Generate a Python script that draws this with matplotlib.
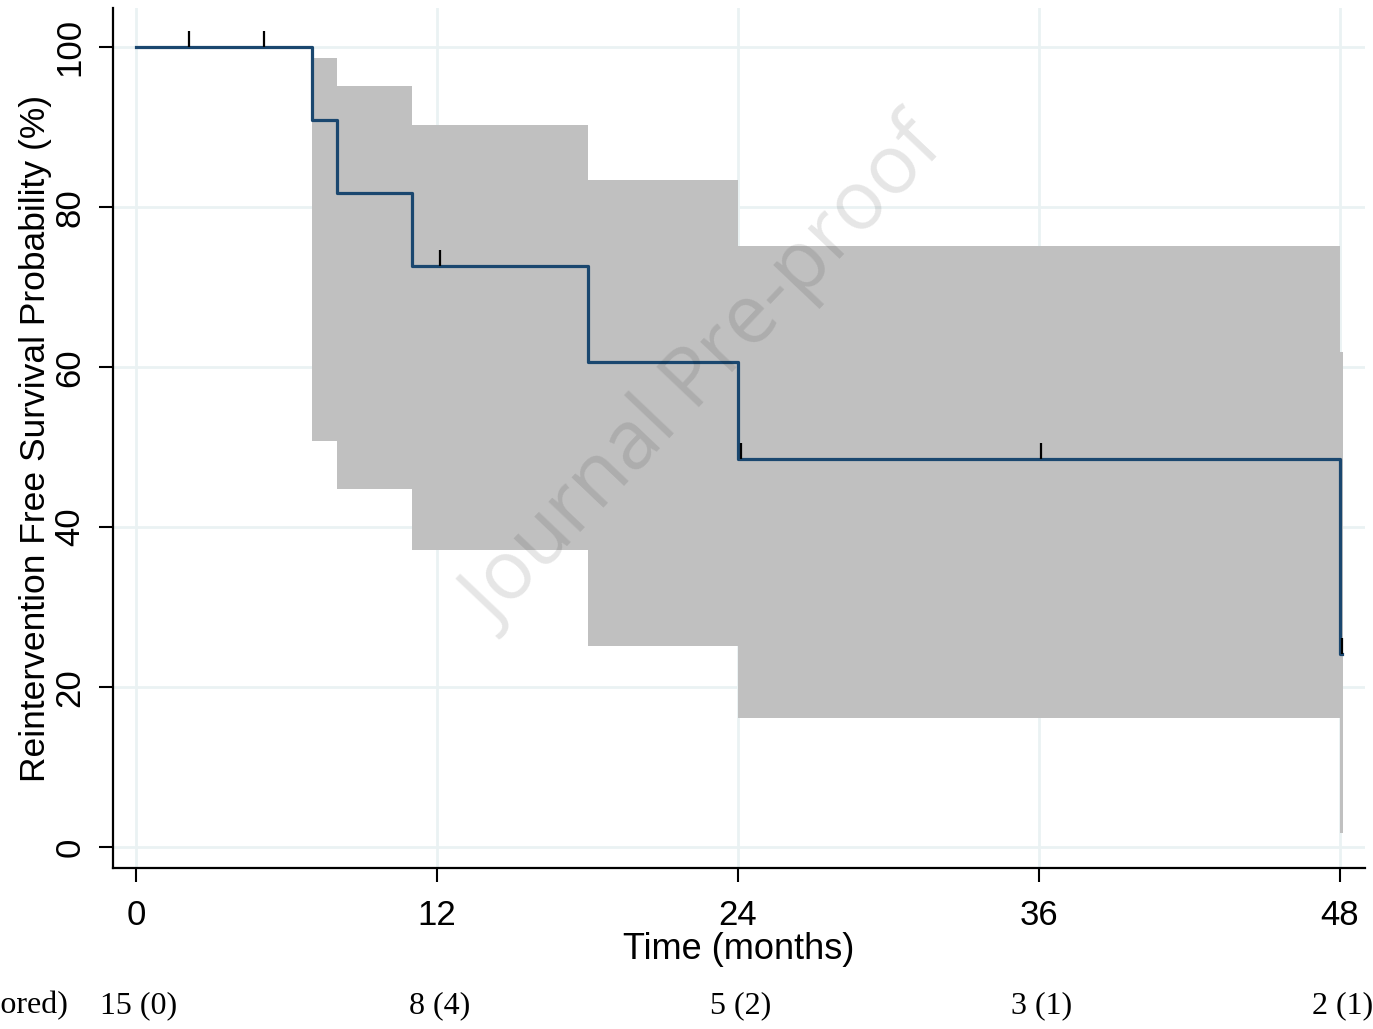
import numpy as np
import matplotlib
matplotlib.use("Agg")
import matplotlib.pyplot as plt

# Kaplan-Meier estimate
km_time = [0, 7, 8, 11, 18, 24, 48, 48.1]
km_surv = [100, 90.9, 81.8, 72.7, 60.6, 48.5, 24.2, 24.2]

# 95% confidence band
ci_time = [7, 8, 11, 18, 24, 48, 48.12]
ci_low = [50.8, 44.8, 37.1, 25.1, 16.1, 1.8, 1.8]
ci_high = [98.6, 95.1, 90.3, 83.4, 75.1, 61.9, 61.9]

# censored observations
cens_time = [2.1, 5.1, 12.1, 24.1, 36.1, 48.1]
cens_surv = [100, 100, 72.7, 48.5, 48.5, 24.2]

xticks = [0, 12, 24, 36, 48]
yticks = [0, 20, 40, 60, 80, 100]
at_risk = ["15 (0)", "8 (4)", "5 (2)", "3 (1)", "2 (1)"]

navy = "#1a476f"
grid_col = "#eaf2f3"

fig = plt.figure(figsize=(13.73, 10.29), dpi=100)
ax = fig.add_axes([0.0823, 0.1565, 0.9119, 0.8357])

ax.fill_between(ci_time, ci_low, ci_high, step="post", color="#c0c0c0",
                linewidth=0, zorder=2)
ax.plot(km_time, km_surv, drawstyle="steps-post", color=navy, lw=2.3, zorder=3)
ax.vlines(cens_time, cens_surv, np.array(cens_surv) + 2.0, color="black",
          lw=1.6, zorder=4)

ax.set_xlim(-0.92, 49.0)
ax.set_ylim(-2.6, 104.9)

ax.set_xticks(xticks)
ax.set_yticks(yticks)
ax.set_xticklabels([str(t) for t in xticks], fontsize=25, family="Liberation Sans")
ax.set_yticklabels([str(t) for t in yticks], fontsize=25, family="Liberation Sans",
                   rotation=90, va="center")
ax.tick_params(axis="both", length=10, width=1.5, color="black")
ax.tick_params(axis="x", pad=12)
ax.tick_params(axis="y", pad=9)

for t in xticks:
    ax.axvline(t, color=grid_col, lw=2, zorder=1)
for t in yticks:
    ax.axhline(t, color=grid_col, lw=2, zorder=1)

for s in ["top", "right"]:
    ax.spines[s].set_visible(False)
for s in ["left", "bottom"]:
    ax.spines[s].set_linewidth(1.6)

ax.set_xlabel("Time (months)", fontsize=26, family="Liberation Sans", labelpad=0)
ax.set_ylabel("Reintervention Free Survival Probability (%)", fontsize=25.5,
              family="Liberation Sans", labelpad=1)

# number at risk row
fig.text(0.0495, 1 - 1006 / 1029, "Number at risk (censored)", ha="right",
         va="center", fontsize=23, family="Liberation Serif")
for t, lab in zip(xticks, at_risk):
    xf = fig.transFigure.inverted().transform(ax.transData.transform((t, 0)))[0]
    fig.text(xf + 0.002, 1 - 1006 / 1029, lab, ha="center", va="center",
             fontsize=23, family="Liberation Serif")

# watermark
fig.text(0.514, 1 - 376 / 1029, "Journal Pre-proof", rotation=46.5,
         ha="center", va="center", fontsize=59, family="Open Sans",
         color="black", alpha=0.1, zorder=10)

fig.savefig("out.png", dpi=100)
